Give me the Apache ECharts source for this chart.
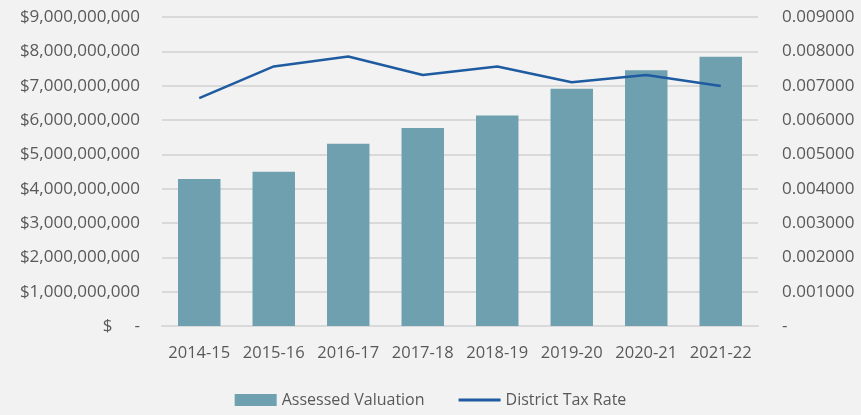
<!DOCTYPE html>
<html>
<head>
<meta charset="utf-8">
<script src="https://cdn.jsdelivr.net/npm/echarts@6/dist/echarts.min.js"></script>
<style>
  html, body { margin: 0; padding: 0; background: #f2f2f2; }
  #chart { width: 861px; height: 415px; }
</style>
</head>
<body>
<div id="chart"></div>
<script>
const years = ['2014-15', '2015-16', '2016-17', '2017-18', '2018-19', '2019-20', '2020-21', '2021-22'];
const assessedValuation = [4280000000, 4490000000, 5310000000, 5770000000, 6130000000, 6910000000, 7450000000, 7840000000];
const districtTaxRate = [0.00664, 0.00756, 0.00785, 0.00731, 0.00756, 0.00710, 0.00731, 0.00699];

const textColor = '#595959';
const fontFamily = '"Open Sans", sans-serif';

function money(v) {
    if (v === 0) return '$     -';
    return '$' + v.toLocaleString('en-US');
}

const chart = echarts.init(document.getElementById('chart'));
chart.setOption({
    animation: false,
    backgroundColor: '#f2f2f2',
    textStyle: { fontFamily: fontFamily, color: textColor },
    grid: { left: 162, right: 103, top: 17, bottom: 89 },
    legend: {
        bottom: 2,
        left: 'center',
        itemGap: 34,
        itemWidth: 42,
        itemHeight: 12,
        textStyle: { color: textColor, fontSize: 16, fontFamily: fontFamily },
        data: [
            { name: 'Assessed Valuation', icon: 'rect' },
            { name: 'District Tax Rate', icon: 'path://M0,0 L42,0 L42,3 L0,3 Z' }
        ]
    },
    xAxis: {
        type: 'category',
        data: years,
        axisLine: { show: true, lineStyle: { color: '#d9d9d9', width: 2 } },
        axisTick: { show: false },
        axisLabel: { color: textColor, fontSize: 16.5, margin: 19, interval: 0, fontFamily: fontFamily }
    },
    yAxis: [
        {
            type: 'value',
            min: 0,
            max: 9000000000,
            interval: 1000000000,
            axisLine: { show: false },
            axisTick: { show: false },
            splitLine: { lineStyle: { color: '#d9d9d9', width: 2 } },
            axisLabel: { color: textColor, fontSize: 17, margin: 22, formatter: money, fontFamily: fontFamily }
        },
        {
            type: 'value',
            min: 0,
            max: 0.009,
            interval: 0.001,
            axisLine: { show: false },
            axisTick: { show: false },
            splitLine: { show: false },
            axisLabel: {
                color: textColor,
                fontSize: 17,
                margin: 24,
                fontFamily: fontFamily,
                formatter: function (v) { return v === 0 ? '-' : v.toFixed(6); }
            }
        }
    ],
    series: [
        {
            name: 'Assessed Valuation',
            type: 'bar',
            data: assessedValuation,
            barWidth: '57%',
            itemStyle: { color: '#6fa0b0' }
        },
        {
            name: 'District Tax Rate',
            type: 'line',
            yAxisIndex: 1,
            data: districtTaxRate,
            symbol: 'none',
            lineStyle: { color: '#1f5ba0', width: 2.5 },
            itemStyle: { color: '#1f5ba0' }
        }
    ]
});
</script>
</body>
</html>
